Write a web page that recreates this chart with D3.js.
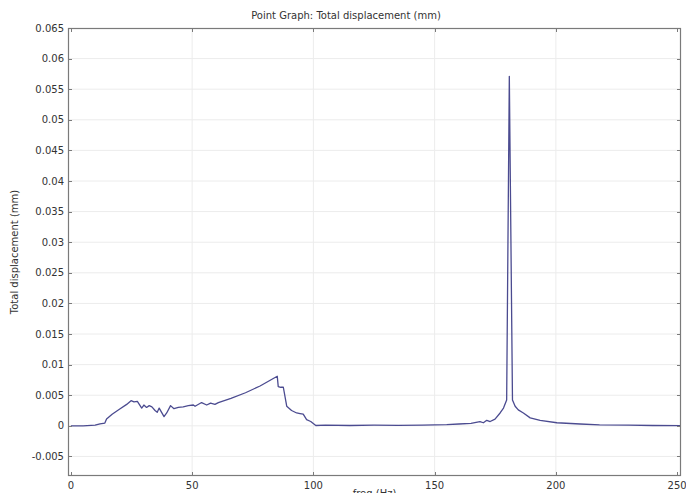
<!DOCTYPE html>
<html lang="en">
<head>
    <meta charset="UTF-8">
    <title>Point Graph: Total displacement (mm)</title>
    <script src="https://d3js.org/d3.v7.min.js"></script>
    <style>
        body {
            margin: 0;
            overflow: hidden;
            background: #fff;
        }
        text {
            font-family: "DejaVu Sans", sans-serif;
            font-size: 10px;
            fill: #333;
        }
        .grid line {
            stroke: #ececec;
            stroke-width: 1;
        }
        .frame {
            fill: none;
            stroke: #7a7a7a;
            stroke-width: 1.2;
        }
        .tick-mark {
            stroke: #7a7a7a;
            stroke-width: 1;
        }
        .curve {
            fill: none;
            stroke: #4b4b90;
            stroke-width: 1.3;
            stroke-linejoin: round;
        }
    </style>
</head>
<body>
    <script>
        // frequency (Hz)
        const freq = [0, 5, 10, 12, 14, 14.7, 17, 20, 23, 24.8, 26, 27.4, 29.2, 30.1, 31.2, 32.3, 33.4,
            34.7, 35.6, 36.4, 37.4, 38.4, 39.5, 41.1, 42.5, 44.3, 46.3, 48.4, 50.5, 51.2, 53.9,
            56, 57.6, 59.4, 60.8, 66, 72, 78, 85.1, 85.5, 86.5, 87.6, 89, 91, 93.1, 94.5, 95.8,
            97.2, 98.9, 101, 105, 115, 125, 135, 145, 155, 160, 165, 168.7, 170.1, 171.5, 172.9,
            174.9, 177, 178.4, 179.7, 180.8, 182.1, 183.2, 184.5, 186.6, 189.4, 193.5, 200.4,
            210, 218, 230, 240, 251.5];
        // total displacement (mm)
        const disp = [0, 0, 0.0001, 0.0003, 0.00044, 0.0011, 0.0019, 0.0027, 0.0035, 0.0041, 0.0039,
            0.004, 0.0029, 0.0034, 0.003, 0.0033, 0.0031, 0.0025, 0.0022, 0.0029, 0.0022, 0.0015,
            0.0021, 0.0033, 0.0028, 0.003, 0.0031, 0.0033, 0.0034, 0.0032, 0.0038, 0.0034,
            0.0037, 0.0035, 0.0038, 0.0045, 0.0054, 0.0065, 0.0081, 0.0064, 0.0063, 0.0063,
            0.0032, 0.0025, 0.0021, 0.002, 0.0019, 0.001, 0.0007, 0.00005, 0.0001, 0.00005,
            0.0001, 0.00008, 0.00012, 0.0002, 0.0003, 0.0004, 0.0007, 0.0005, 0.0009, 0.0007,
            0.0011, 0.0021, 0.0029, 0.0042, 0.0571, 0.0042, 0.0032, 0.0026, 0.0021, 0.0013,
            0.0009, 0.0005, 0.0003, 0.00015, 0.0001, 0.00005, 0.00003];

        const xTicks = [0, 50, 100, 150, 200, 250];
        const yTicks = [-0.005, 0, 0.005, 0.01, 0.015, 0.02, 0.025, 0.03, 0.035, 0.04,
            0.045, 0.05, 0.055, 0.06, 0.065];

        const chartTitle = "Point Graph: Total displacement (mm)";
        const xTitle = "freq (Hz)";
        const yTitle = "Total displacement (mm)";

        const width = 686, height = 493;
        const plotL = 68, plotR = 681, plotT = 28, plotB = 476;

        const x = d3.scaleLinear().domain([-1.2, 251.6]).range([plotL, plotR]);
        const y = d3.scaleLinear().domain([-0.0082, 0.065]).range([plotB, plotT]);

        const svg = d3.select("body").append("svg")
            .attr("width", width)
            .attr("height", height);

        // grid
        const grid = svg.append("g").attr("class", "grid");
        grid.selectAll("line.v")
            .data(xTicks.filter(t => t > 0 && t < 250))
            .enter().append("line")
            .attr("x1", d => x(d)).attr("x2", d => x(d))
            .attr("y1", plotT).attr("y2", plotB);
        grid.selectAll("line.h")
            .data(yTicks.filter(t => t < 0.065))
            .enter().append("line")
            .attr("x1", plotL).attr("x2", plotR)
            .attr("y1", d => y(d)).attr("y2", d => y(d));

        // line
        const data = freq.map((f, i) => [f, disp[i]]);
        const line = d3.line().x(d => x(d[0])).y(d => y(d[1]));
        svg.append("path")
            .datum(data)
            .attr("class", "curve")
            .attr("d", line);

        // frame
        svg.append("rect")
            .attr("class", "frame")
            .attr("x", plotL + 0.5).attr("y", plotT + 0.5)
            .attr("width", plotR - plotL - 1).attr("height", plotB - plotT - 1);

        // inward ticks on all four sides
        const tl = 4;
        const ticks = svg.append("g");
        xTicks.forEach(t => {
            const px = Math.round(x(t)) + 0.5;
            ticks.append("line").attr("class", "tick-mark")
                .attr("x1", px).attr("x2", px).attr("y1", plotB).attr("y2", plotB - tl);
            ticks.append("line").attr("class", "tick-mark")
                .attr("x1", px).attr("x2", px).attr("y1", plotT).attr("y2", plotT + tl);
        });
        yTicks.forEach(t => {
            const py = Math.round(y(t)) + 0.5;
            ticks.append("line").attr("class", "tick-mark")
                .attr("x1", plotL).attr("x2", plotL + tl).attr("y1", py).attr("y2", py);
            ticks.append("line").attr("class", "tick-mark")
                .attr("x1", plotR).attr("x2", plotR - tl).attr("y1", py).attr("y2", py);
        });

        // tick labels
        svg.append("g").selectAll("text")
            .data(yTicks)
            .enter().append("text")
            .attr("x", plotL - 4)
            .attr("y", d => y(d))
            .attr("dy", "0.35em")
            .attr("text-anchor", "end")
            .text(d => String(+d.toFixed(3)));

        svg.append("g").selectAll("text")
            .data(xTicks)
            .enter().append("text")
            .attr("x", d => x(d))
            .attr("y", 489)
            .attr("text-anchor", "middle")
            .text(d => d);

        // titles
        svg.append("text")
            .attr("x", 346).attr("y", 19)
            .attr("text-anchor", "middle")
            .text(chartTitle);

        svg.append("text")
            .attr("transform", "translate(18," + ((plotT + plotB) / 2) + ") rotate(-90)")
            .attr("text-anchor", "middle")
            .text(yTitle);

        // x-axis title sits at the bottom edge, partly cut off as in the original
        svg.append("text")
            .attr("x", (plotL + plotR) / 2).attr("y", 497)
            .attr("text-anchor", "middle")
            .text(xTitle);
    </script>
</body>
</html>
